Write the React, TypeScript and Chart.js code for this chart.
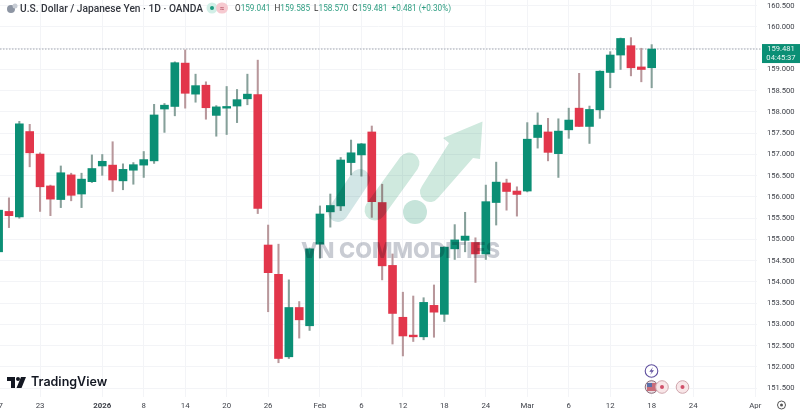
import React, { useEffect, useRef } from "react";
import { Chart, registerables } from "chart.js";

Chart.register(...registerables);

const opens = [154.71,155.66,155.53,157.54,157.01,156.26,155.94,156.52,156.07,156.36,156.73,156.75,156.38,156.63,156.75,156.85,158.07,158.13,159.15,158.42,158.63,157.92,158.09,158.14,158.31,158.41,154.87,154.18,152.24,153.40,152.97,154.89,155.65,155.79,156.81,156.99,157.53,155.87,154.39,153.17,152.75,152.71,153.45,153.24,154.78,154.98,154.93,154.66,155.87,156.33,156.14,156.14,157.40,157.53,157.02,157.58,158.09,157.66,158.05,158.93,159.34,159.56,159.06,159.041];
const highs = [155.72,155.98,157.78,157.71,157.04,156.28,156.73,156.56,156.56,156.99,157.00,157.30,156.78,156.81,157.07,158.18,158.20,159.18,159.46,158.89,158.71,158.15,158.60,158.53,158.89,159.22,155.34,154.89,154.05,153.54,154.80,155.79,156.07,156.93,157.34,157.26,157.67,156.30,154.66,153.76,153.67,153.63,153.93,154.83,155.35,155.64,155.04,156.28,156.82,156.42,156.24,157.75,157.98,157.85,157.84,158.09,158.91,158.14,158.97,159.42,159.74,159.75,159.50,159.585];
const lows = [154.68,155.28,155.50,156.71,155.66,155.56,155.75,155.91,155.75,156.34,156.51,156.13,156.17,156.30,156.46,156.79,157.52,157.91,158.09,158.23,157.83,157.43,157.47,157.75,158.17,155.61,153.30,152.10,152.20,152.68,152.86,154.56,155.29,155.68,156.52,156.49,155.52,154.05,152.54,152.26,152.60,152.64,152.70,153.07,154.53,154.71,153.99,154.53,155.34,155.69,155.55,156.12,157.15,156.85,156.46,157.38,157.66,157.26,157.85,158.57,159.00,158.85,158.71,158.570];
const closes = [155.69,155.56,157.72,157.04,156.24,155.95,156.57,156.04,156.42,156.67,156.84,156.40,156.65,156.76,156.88,157.93,158.16,159.16,158.44,158.62,158.10,158.12,158.13,158.29,158.42,155.73,154.22,152.20,153.40,153.11,154.78,155.60,155.80,156.87,157.04,157.25,155.89,154.38,153.26,152.73,152.71,153.52,153.29,154.82,154.99,155.08,154.66,155.89,156.35,156.13,156.06,157.36,157.69,157.05,157.55,157.81,157.66,158.06,158.96,159.34,159.73,159.04,159.00,159.481];

const dayTickIndexes = [0,4,10,14,18,22,26,31,35,39,43,47,51,55,59,63,67,73];
const dayTickLabels = ["17","23","2026","8","14","20","26","Feb","6","12","18","24","Mar","6","12","18","24","Apr"];
const priceTicks = [151.5,152,152.5,153,153.5,154,154.5,155,155.5,156,156.5,157,157.5,158,158.5,159,159.5,160,160.5];
const lastPrice = 159.481;
const countdown = "04:45:37";

const UP = "#0b8f75";
const DOWN = "#e2364b";
const UP_WICK = "#86a09a";
const DOWN_WICK = "#b8979b";
const GRID = "#f3f4f7";
const TEXT = "#3c3f47";

const candleIdx = opens.map((_, i) => i);
const isUp = (i: number) => closes[i] >= opens[i];

const lastPricePlugin = {
  id: "lastPriceTag",
  afterDraw(chart: any) {
    const { ctx } = chart;
    const y = chart.scales.y.getPixelForValue(lastPrice);
    ctx.save();
    ctx.fillStyle = UP;
    ctx.fillRect(762, y - 5, 38, 19);
    ctx.fillStyle = "#e8f5f1";
    ctx.font = "7.6px Roboto";
    ctx.textAlign = "center";
    ctx.textBaseline = "middle";
    ctx.fillText(lastPrice.toFixed(3), 781, y);
    ctx.fillText(countdown, 781, y + 9.5);
    ctx.restore();
  },
};

export default function App() {
  const ref = useRef<HTMLCanvasElement>(null);
  useEffect(() => {
    const chart = new Chart(ref.current as HTMLCanvasElement, {
      type: "bar",
      data: {
        datasets: [
          {
            type: "line",
            data: [{ x: 0.135, y: lastPrice }, { x: 73.6, y: lastPrice }],
            borderColor: "#a3a7b0",
            borderWidth: 1,
            borderDash: [1.5, 1.5],
            pointRadius: 0,
            clip: false,
            order: 3,
          },
          {
            data: candleIdx.map((i) => ({ x: i, y: [lows[i], highs[i]] })),
            backgroundColor: candleIdx.map((i) => (isUp(i) ? UP_WICK : DOWN_WICK)),
            barThickness: 1.4,
            grouped: false,
            order: 2,
          },
          {
            data: candleIdx.map((i) => ({ x: i, y: [opens[i], closes[i]] })),
            backgroundColor: candleIdx.map((i) => (isUp(i) ? UP : DOWN)),
            barThickness: 8,
            grouped: false,
            order: 1,
          },
        ],
      } as any,
      options: {
        animation: false,
        responsive: false,
        layout: { padding: 0 },
        plugins: { legend: { display: false }, tooltip: { enabled: false } },
        scales: {
          x: {
            type: "linear",
            offset: false,
            min: 0.135,
            max: 73.16,
            grid: { color: GRID, lineWidth: 1, drawTicks: false, offset: false },
            border: { display: false },
            afterBuildTicks: (s: any) => {
              s.ticks = dayTickIndexes.map((v) => ({ value: v }));
            },
            afterFit: (s: any) => {
              s.height = 15;
              s.paddingLeft = 0;
              s.paddingRight = 0;
            },
            ticks: {
              autoSkip: false,
              maxRotation: 0,
              padding: 4,
              color: TEXT,
              font: (c: any) => ({ family: "Roboto", size: 7.8, weight: c.tick && c.tick.value === 10 ? "bold" : "normal" }),
              callback: (v: any) => dayTickLabels[dayTickIndexes.indexOf(v)] ?? "",
            },
          },
          y: {
            position: "right",
            min: 151.294,
            max: 160.635,
            grid: { color: GRID, lineWidth: 1, drawTicks: false },
            border: { display: false },
            afterBuildTicks: (s: any) => {
              s.ticks = priceTicks.map((v) => ({ value: v }));
            },
            afterFit: (s: any) => {
              s.width = 43;
              s.paddingTop = 0;
              s.paddingBottom = 0;
            },
            ticks: {
              autoSkip: false,
              padding: 10,
              color: TEXT,
              font: { family: "Roboto", size: 7.6 },
              callback: (v: any) => Number(v).toFixed(3),
            },
          },
        },
      },
      plugins: [lastPricePlugin],
    } as any);
    return () => chart.destroy();
  }, []);

  const green = "#2f9e82";
  return (
    <div style={{ position: "absolute", left: 0, top: 0, width: 800, height: 412, overflow: "hidden", background: "#fff", filter: "blur(0.35px)" }}>
      <canvas ref={ref} width={800} height={412} style={{ position: "absolute", left: 0, top: 0, display: "block" }} />
      <svg width={800} height={412} style={{ position: "absolute", left: 0, top: 0, mixBlendMode: "multiply" }}>
        <line x1={360} y1={179} x2={338} y2={212} stroke="#d2e6e6" strokeWidth={20} strokeLinecap="round" />
        <line x1={409} y1={163} x2={375} y2={210} stroke="#cfe9de" strokeWidth={21} strokeLinecap="round" />
        <circle cx={415} cy={212} r={12} fill="#c6e4da" />
        <path d="M422 186 L449 143 L443 138 L482.5 121.5 L480 159 L473 158 L438 198 A 9 9 0 0 1 422 186 Z" fill="#cfe9de" />
        <text x={301} y={258} textLength={199} lengthAdjust="spacingAndGlyphs" fontFamily="Inter" fontWeight={800} fontSize={22} fill="#c9ccd3">VN COMMODITIES</text>
      </svg>
      <div style={{ position: "absolute", left: 20, top: 2, fontFamily: "Roboto", fontWeight: 500, fontSize: 10.2, lineHeight: "13px", color: "#33363e", whiteSpace: "nowrap" }}>
        U.S. Dollar / Japanese Yen · 1D · OANDA
      </div>
      <div style={{ position: "absolute", left: 235, top: 3, fontFamily: "Roboto", fontSize: 8.2, lineHeight: "11px", color: green, whiteSpace: "nowrap" }}>
        <span style={{ color: "#333" }}>O</span>159.041 <span style={{ color: "#333", marginLeft: 2 }}>H</span>159.585 <span style={{ color: "#333", marginLeft: 2 }}>L</span>158.570 <span style={{ color: "#333", marginLeft: 2 }}>C</span>159.481 <span style={{ marginLeft: 2 }}>+0.481 (+0.30%)</span>
      </div>
      <svg width={800} height={412} style={{ position: "absolute", left: 0, top: 0 }}>
        <circle cx={11} cy={9} r={4} fill="#8d95a3" />
        <circle cx={15} cy={6} r={2.5} fill="#c7ccd4" />
        <circle cx={212} cy={8} r={5.5} fill="#d2efe7" />
        <circle cx={212} cy={8} r={2} fill="#1d9b80" />
        <rect x={216} y={2.5} width={12} height={11} rx={5.5} fill="#f6c9d0" />
        <text x={222} y={11} textAnchor="middle" fontFamily="Roboto" fontSize={8} fill="#b54a5e">≈</text>
        <g transform="translate(7,377)" fill="#131722">
          <path d="M0 0 H8 V11 H4 V4 H0 Z" />
          <circle cx={11} cy={2} r={2} />
          <path d="M14 0 H19 L14.5 11 H9.5 Z" />
        </g>
        <circle cx={651.5} cy={371} r={6.3} fill="#fff" stroke="#5f4f9e" strokeWidth={1.1} />
        <path d="M653 367 L649.3 371.8 H651.7 L650.2 375 L654 370.2 H651.6 Z" fill="#5f4f9e" />
        <circle cx={651.5} cy={387} r={6.3} fill="#e9dfe3" stroke="#8a6a78" strokeWidth={1} />
        <rect x={647} y={383} width={9} height={8} fill="#c96d7a" />
        <rect x={647} y={383} width={5} height={4} fill="#5b6fa8" />
        <circle cx={662} cy={387} r={6.3} fill="#f8e6e8" stroke="#cfa6ad" strokeWidth={1} />
        <circle cx={662} cy={387} r={2} fill="#d0506a" />
        <circle cx={682.5} cy={387} r={6.3} fill="#f8e6e8" stroke="#cfa6ad" strokeWidth={1} />
        <circle cx={682.5} cy={387} r={2} fill="#d0506a" />
        <circle cx={781.5} cy={405} r={4} fill="none" stroke="#555" strokeWidth={1} />
        <circle cx={781.5} cy={405} r={1.5} fill="#555" />
      </svg>
      <div style={{ position: "absolute", left: 31, top: 374, fontFamily: "Inter", fontWeight: 600, fontSize: 12.5, lineHeight: "16px", color: "#131722", whiteSpace: "nowrap" }}>
        TradingView
      </div>
    </div>
  );
}
